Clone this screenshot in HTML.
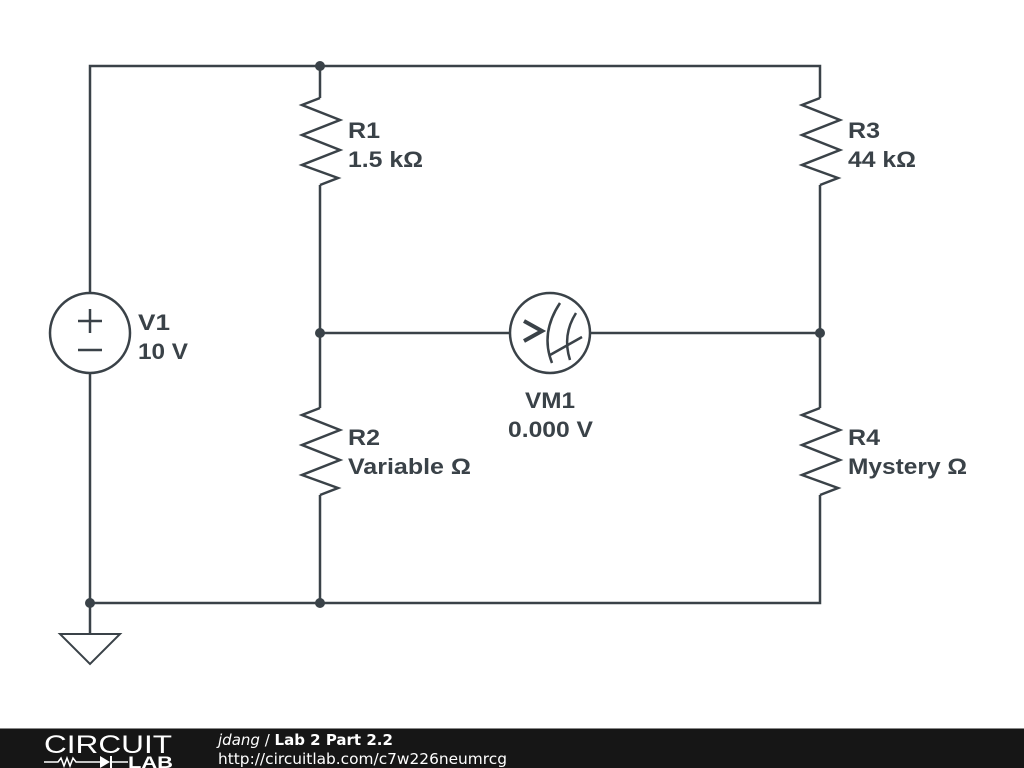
<!DOCTYPE html>
<html><head><style>
body{margin:0;width:1024px;height:768px;background:#fff;overflow:hidden;font-family:"Liberation Sans",sans-serif}
</style></head><body>
<svg width="1024" height="768" style="position:absolute;left:0;top:0">
<g stroke="#3a4248" stroke-width="2.5" fill="none" stroke-linejoin="miter">
<polyline points="90,293 90,66 820,66 820,98"/>
<line x1="320" y1="66" x2="320" y2="98"/>
<polyline points="320,98 302,105 340,120 302,135 340,150 302,165 338,178 320,185"/>
<line x1="320" y1="185" x2="320" y2="408"/>
<polyline points="320,408 302,415 340,430 302,445 340,460 302,475 338,488 320,495"/>
<line x1="320" y1="495" x2="320" y2="603"/>
<polyline points="820,98 802,105 840,120 802,135 840,150 802,165 838,178 820,185"/>
<line x1="820" y1="185" x2="820" y2="408"/>
<polyline points="820,408 802,415 840,430 802,445 840,460 802,475 838,488 820,495"/>
<polyline points="820,495 820,603 90,603 90,373"/>
<line x1="320" y1="333" x2="510" y2="333"/>
<line x1="590" y1="333" x2="820" y2="333"/>
<circle cx="90" cy="333" r="40"/>
<line x1="78" y1="321" x2="102" y2="321"/><line x1="90" y1="309" x2="90" y2="333"/>
<line x1="78" y1="350" x2="102" y2="350"/>
<circle cx="550" cy="333" r="40"/>
<polyline points="524,321 542,331 524,341" stroke-width="4"/>
<path d="M560,303 Q540,333 552,363"/>
<path d="M576,313 Q562,335 570,360"/>
<line x1="550" y1="355" x2="582" y2="337"/>
<line x1="90" y1="603" x2="90" y2="634"/>
<polygon points="60,634 120,634 90,664" stroke-width="2"/>
</g>
<g fill="#3a4248">
<circle cx="320" cy="66" r="5"/><circle cx="320" cy="333" r="5"/><circle cx="820" cy="333" r="5"/>
<circle cx="90" cy="603" r="5"/><circle cx="320" cy="603" r="5"/>
</g>
<g fill="#3a4248" font-family="Liberation Sans, sans-serif" font-weight="bold" font-size="22">
<text x="348" y="138" textLength="32" lengthAdjust="spacingAndGlyphs">R1</text><text x="348" y="167" textLength="75" lengthAdjust="spacingAndGlyphs">1.5 kΩ</text>
<text x="848" y="138" textLength="32" lengthAdjust="spacingAndGlyphs">R3</text><text x="848" y="167" textLength="68" lengthAdjust="spacingAndGlyphs">44 kΩ</text>
<text x="138" y="330" textLength="32" lengthAdjust="spacingAndGlyphs">V1</text><text x="138" y="359" textLength="50" lengthAdjust="spacingAndGlyphs">10 V</text>
<text x="348" y="445" textLength="32" lengthAdjust="spacingAndGlyphs">R2</text><text x="348" y="474" textLength="123" lengthAdjust="spacingAndGlyphs">Variable Ω</text>
<text x="848" y="445" textLength="32" lengthAdjust="spacingAndGlyphs">R4</text><text x="848" y="474" textLength="119" lengthAdjust="spacingAndGlyphs">Mystery Ω</text>
<text x="525" y="408" textLength="50" lengthAdjust="spacingAndGlyphs">VM1</text><text x="508" y="437" textLength="85" lengthAdjust="spacingAndGlyphs">0.000 V</text>
</g>
<rect x="0" y="729" width="1024" height="39" fill="#161616"/>
<rect x="0" y="728" width="1024" height="1" fill="#888"/>
<text x="44" y="753" fill="#fff" font-size="25" font-family="Liberation Sans, sans-serif" textLength="128" lengthAdjust="spacingAndGlyphs">CIRCUIT</text>
<polyline points="44,762 58,762 61,758 64,766 67,758 70,766 73,758 76,762 100,762" stroke="#fff" stroke-width="1.5" fill="none"/>
<polygon points="100,756 110,762 100,768" fill="#fff"/><line x1="111" y1="756" x2="111" y2="768" stroke="#fff" stroke-width="2"/>
<line x1="111" y1="762" x2="128" y2="762" stroke="#fff" stroke-width="1.5"/>
<text x="128" y="768" fill="#fff" font-size="17" font-weight="bold" font-family="Liberation Sans, sans-serif" textLength="45" lengthAdjust="spacingAndGlyphs">LAB</text>
<text x="218" y="745" fill="#fff" font-size="15" font-family="DejaVu Sans, sans-serif"><tspan font-style="italic">jdang</tspan> / <tspan font-weight="bold">Lab 2 Part 2.2</tspan></text>
<text x="218" y="764" fill="#fff" font-size="15" font-family="DejaVu Sans, sans-serif" textLength="289" lengthAdjust="spacingAndGlyphs">http://circuitlab.com/c7w226neumrcg</text>
</svg>
</body></html>
